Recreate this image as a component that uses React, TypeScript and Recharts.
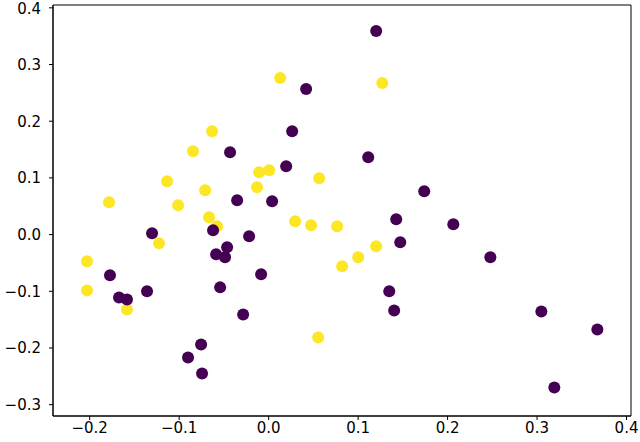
import React from "react";
import {
  ScatterChart,
  Scatter,
  XAxis,
  YAxis,
  ReferenceArea,
} from "recharts";

// class 0 (dark purple)
const purpleX = [
  0.1202, 0.0419, 0.0263, -0.0431, 0.1113, 0.0196, 0.1739, -0.0352, 0.0039,
  0.1426, 0.2064, -0.0621, -0.0218, -0.1303, 0.1471, -0.0464, -0.0587, -0.0487,
  0.2478, -0.1773, -0.0084, -0.0542, -0.1359, 0.1348, -0.1672, -0.1583, 0.1403,
  -0.0285, 0.3048, 0.3674, -0.0755, -0.0901, -0.0744, 0.3193,
];
const purpleY = [
  0.3592, 0.2567, 0.1825, 0.1454, 0.1366, 0.1207, 0.0765, 0.0606, 0.0588,
  0.027, 0.0182, 0.0076, -0.003, 0.0023, -0.0136, -0.0224, -0.0348, -0.0401,
  -0.0401, -0.0719, -0.0701, -0.0931, -0.1001, -0.1001, -0.1108, -0.1143, -0.1337,
  -0.1408, -0.1355, -0.1673, -0.1938, -0.2168, -0.2451, -0.2698,
];

// class 1 (yellow)
const yellowX = [
  0.0129, 0.127, -0.0632, -0.0845, -0.0106, 0.0006, 0.0565, -0.1135, -0.071,
  -0.0129, -0.1784, -0.1012, -0.0666, -0.0576, 0.0296, 0.0475, 0.0766, -0.1225,
  0.1202, 0.1001, 0.0822, -0.203, -0.203, -0.1583, 0.0554,
];
const yellowY = [
  0.2762, 0.2673, 0.1825, 0.1472, 0.1101, 0.1137, 0.0995, 0.0942, 0.0783,
  0.0836, 0.0571, 0.0518, 0.0306, 0.0147, 0.0235, 0.0164, 0.0147, -0.0154,
  -0.0207, -0.0401, -0.056, -0.0472, -0.0984, -0.132, -0.1814,
];

const xTicks = [-0.2, -0.1, 0, 0.1, 0.2, 0.3, 0.4];
const yTicks = [-0.3, -0.2, -0.1, 0, 0.1, 0.2, 0.3, 0.4];
const xDomain: [number, number] = [-0.241, 0.405];
const yDomain: [number, number] = [-0.32, 0.405];

const purpleData = purpleX.map((x, i) => ({ x, y: purpleY[i] }));
const yellowData = yellowX.map((x, i) => ({ x, y: yellowY[i] }));

const fmt = (v: number) => v.toFixed(1).replace("-", "\u2212");
const tickStyle = { fill: "#000", fontSize: 15, fontFamily: "DejaVu Sans" };

const dot = (color: string) => (props: any) =>
  <circle cx={props.cx} cy={props.cy} r={6} fill={color} />;

export default function App() {
  return (
    <div style={{ position: "absolute", left: 0, top: 0, background: "#fff" }}>
      <ScatterChart
        width={640}
        height={442}
        margin={{ top: 5, right: 9, bottom: 0, left: 0 }}
      >
        <XAxis
          type="number"
          dataKey="x"
          domain={xDomain}
          ticks={xTicks}
          allowDataOverflow
          tickFormatter={fmt}
          height={26}
          tickSize={4}
          tickMargin={2}
          stroke="#000"
          tick={tickStyle}
        />
        <YAxis
          type="number"
          dataKey="y"
          domain={yDomain}
          ticks={yTicks}
          allowDataOverflow
          tickFormatter={fmt}
          width={53}
          tickSize={4}
          tickMargin={8}
          stroke="#000"
          tick={tickStyle}
        />
        <ReferenceArea
          x1={xDomain[0]}
          x2={xDomain[1]}
          y1={yDomain[0]}
          y2={yDomain[1]}
          fill="none"
          stroke="#000"
          strokeWidth={1}
        />
        <Scatter
          data={yellowData}
          shape={dot("#fde725")}
          isAnimationActive={false}
        />
        <Scatter
          data={purpleData}
          shape={dot("#440154")}
          isAnimationActive={false}
        />
      </ScatterChart>
    </div>
  );
}
